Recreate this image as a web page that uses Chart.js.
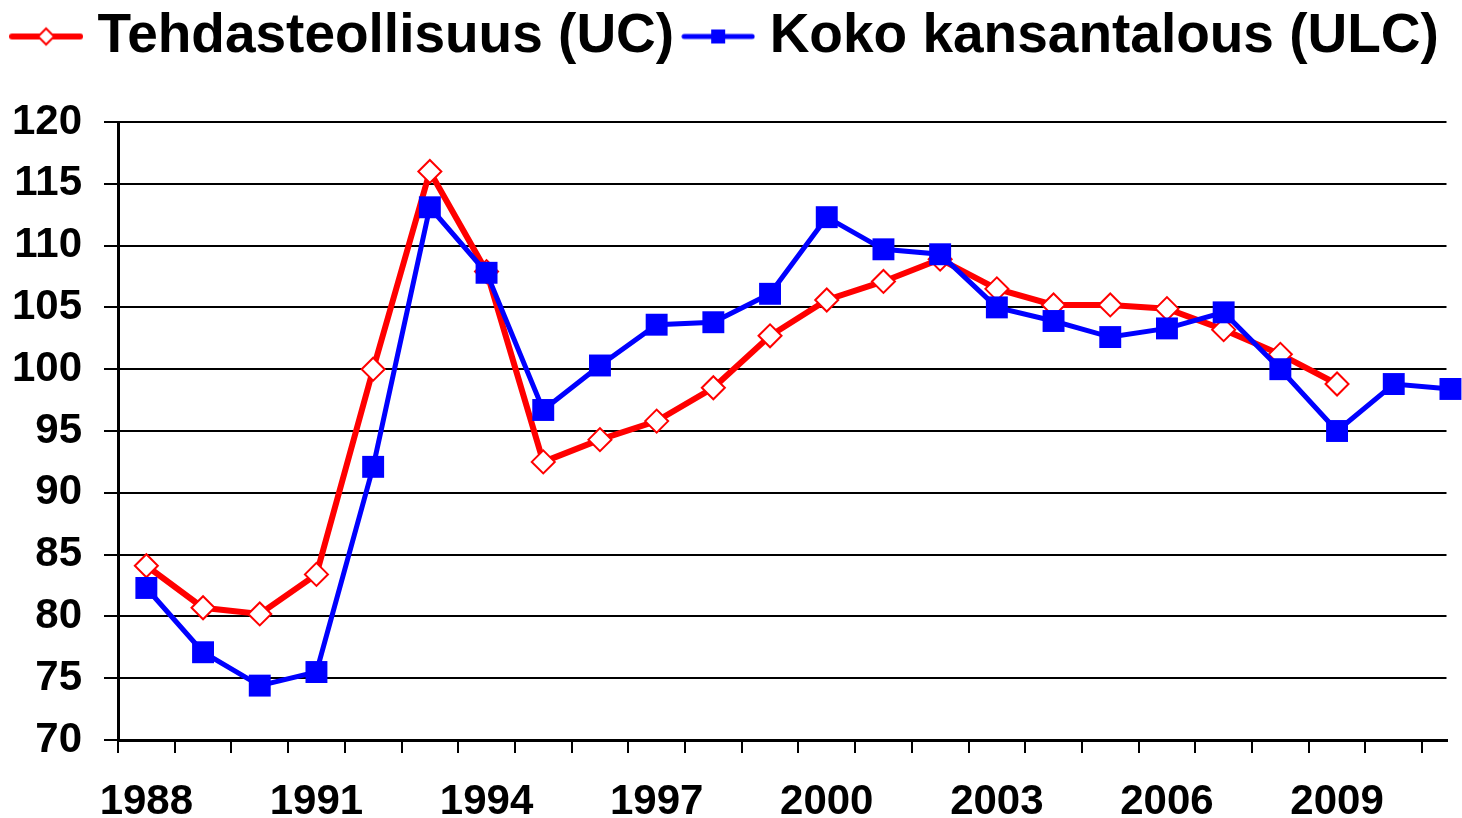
<!DOCTYPE html>
<html>
<head>
<meta charset="utf-8">
<script src="https://cdn.jsdelivr.net/npm/chart.js@4"></script>
<style>
  html, body { margin: 0; padding: 0; overflow: hidden; background: #ffffff; }
  canvas { display: block; }
</style>
</head>
<body>
<canvas id="chart" width="1462" height="818" style="width:1462px;height:818px;"></canvas>
<script>
const years = ['1988', '1989', '1990', '1991', '1992', '1993', '1994', '1995', '1996', '1997', '1998', '1999',
               '2000', '2001', '2002', '2003', '2004', '2005', '2006', '2007', '2008', '2009', '2010', '2011'];
const manufacturingUC = [84.1, 80.7, 80.2, 83.4, 100.0, 116.0, 107.9, 92.5, 94.3, 95.8, 98.5, 102.7,
                         105.6, 107.1, 108.9, 106.5, 105.2, 105.2, 104.9, 103.2, 101.2, 98.8, null, null];
const economyULC = [82.3, 77.1, 74.4, 75.5, 92.1, 113.1, 107.8, 96.7, 100.3, 103.6, 103.8, 106.1,
                    112.3, 109.7, 109.3, 105.0, 103.9, 102.6, 103.3, 104.6, 100.0, 95.0, 98.8, 98.4];
const labelYears = ['1988', '1991', '1994', '1997', '2000', '2003', '2006', '2009'];

// the original plot cuts the last year's slot at the right edge
const xMin = 1987.5;
const xMax = 2011.2;
const yearWidth = 56.7;

const FONT = "'Liberation Sans', Arial, sans-serif";

const toPoints = values => values
    .map((v, i) => ({ x: Number(years[i]), y: v }))
    .filter(p => p.y !== null);

// little line+marker pictures for the legend
function legendSample(color, lineWidth, drawMarker) {
    const c = document.createElement('canvas');
    c.width = 74; c.height = 24;
    const g = c.getContext('2d');
    g.strokeStyle = color;
    g.lineWidth = lineWidth;
    g.lineCap = 'round';
    g.beginPath(); g.moveTo(3, 12); g.lineTo(71, 12); g.stroke();
    drawMarker(g);
    return c;
}
const redSample = legendSample('#ff0000', 6, g => {
    g.fillStyle = '#ffffff'; g.strokeStyle = '#ff0000'; g.lineWidth = 2;
    g.beginPath(); g.moveTo(37, 4); g.lineTo(45, 12); g.lineTo(37, 20); g.lineTo(29, 12); g.closePath();
    g.fill(); g.stroke();
});
const blueSample = legendSample('#0000ff', 5, g => {
    g.fillStyle = '#0000ff';
    g.fillRect(30, 5, 14, 14);
});

const legendGap = {
    id: 'legendGap',
    beforeInit(chart) {
        const fit = chart.legend.fit;
        chart.legend.fit = function () {
            fit.bind(chart.legend)();
            this.height += 48;
        };
    }
};

// keep a fixed width per year whatever the canvas width turns out to be
const fixedYearWidth = {
    id: 'fixedYearWidth',
    afterLayout(chart) {
        ['x', 'xYears'].forEach(id => {
            const s = chart.scales[id];
            s.max = xMin + (s.right - s.left) / yearWidth;
            s.configure();
        });
    }
};

const ctx = document.getElementById('chart').getContext('2d');
new Chart(ctx, {
    type: 'line',
    data: {
        datasets: [
            {
                label: 'Tehdasteollisuus (UC)',
                data: toPoints(manufacturingUC),
                borderColor: '#ff0000',
                borderWidth: 6,
                pointStyle: 'rectRot',
                pointRadius: 11.5,
                pointBackgroundColor: '#ffffff',
                pointBorderColor: '#ff0000',
                pointBorderWidth: 2,
                fill: false,
                order: 1
            },
            {
                label: 'Koko kansantalous (ULC)',
                data: toPoints(economyULC),
                borderColor: '#0000ff',
                borderWidth: 5,
                pointStyle: 'rect',
                pointRadius: 15.5,
                pointBackgroundColor: '#0000ff',
                pointBorderColor: '#0000ff',
                pointBorderWidth: 0,
                fill: false,
                order: 0
            }
        ]
    },
    options: {
        responsive: false,
        animation: false,
        clip: false,
        layout: { padding: { top: -11, left: 0, right: 1, bottom: 0 } },
        plugins: {
            legend: {
                position: 'top',
                labels: {
                    usePointStyle: true,
                    pointStyleWidth: 48,
                    padding: 20,
                    color: '#000000',
                    font: { family: FONT, size: 55, weight: 'bold' },
                    sort: (a, b) => a.datasetIndex - b.datasetIndex,
                    generateLabels: chart => chart.data.datasets.map((ds, i) => ({
                        text: ds.label,
                        pointStyle: i === 0 ? redSample : blueSample,
                        fillStyle: ds.borderColor,
                        strokeStyle: ds.borderColor,
                        lineWidth: 0,
                        datasetIndex: i,
                        hidden: false
                    }))
                }
            },
            tooltip: { enabled: false }
        },
        scales: {
            // tick marks between the years
            x: {
                type: 'linear',
                position: 'bottom',
                weight: 0,
                min: xMin,
                max: xMax,
                afterBuildTicks: s => { s.ticks = years.map(y => ({ value: Number(y) - 0.5 })); },
                grid: {
                    drawOnChartArea: false,
                    drawTicks: true,
                    tickLength: 13,
                    color: '#000000',
                    lineWidth: 2
                },
                border: { color: '#000000', width: 3 },
                ticks: { display: false },
                afterFit: s => { s.height = 13; s.paddingLeft = 0; s.paddingRight = 0; }
            },
            // year labels, every third year
            xYears: {
                type: 'linear',
                position: 'bottom',
                weight: 1,
                min: xMin,
                max: xMax,
                afterBuildTicks: s => { s.ticks = labelYears.map(y => ({ value: Number(y) })); },
                grid: { display: false, drawTicks: false },
                border: { display: false },
                ticks: {
                    autoSkip: false,
                    maxRotation: 0,
                    padding: 24,
                    color: '#000000',
                    font: { family: FONT, size: 42, weight: 'bold' },
                    callback: v => String(v)
                },
                afterFit: s => { s.height = 65; s.paddingLeft = 0; s.paddingRight = 0; }
            },
            y: {
                min: 70,
                max: 120,
                grid: {
                    color: '#000000',
                    lineWidth: 2,
                    tickLength: 14
                },
                border: { color: '#000000', width: 3 },
                ticks: {
                    stepSize: 5,
                    autoSkip: false,
                    padding: 22,
                    color: '#000000',
                    font: { family: FONT, size: 42, weight: 'bold' }
                },
                afterFit: s => { s.width = 118; }
            }
        }
    },
    plugins: [legendGap, fixedYearWidth]
});
</script>
</body>
</html>
